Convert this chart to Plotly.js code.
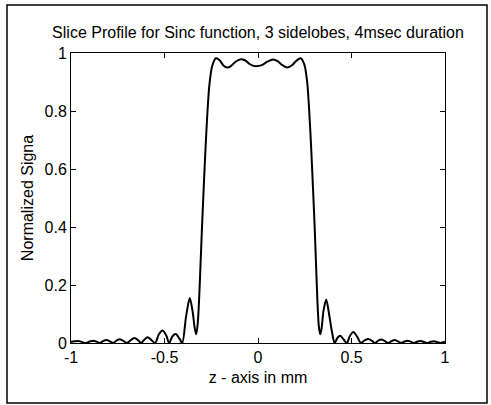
<!DOCTYPE html>
<html>
<head>
<meta charset="utf-8">
<script src="https://cdn.plot.ly/plotly-3.0.1.min.js"></script>
<style>html,body{margin:0;padding:0;background:#fff;}#chart{width:491px;height:405px;}</style>
</head>
<body>
<div id="chart"></div>
<script>
// z position (mm) and normalized signal
const zPos = [
  -1.00,-0.98,-0.96,-0.94,-0.92,-0.90,-0.88,-0.86,-0.845,-0.83,-0.81,-0.79,-0.775,-0.757,-0.74,-0.72,-0.70,-0.68,-0.66,-0.64,
  -0.625,-0.607,-0.59,-0.57,-0.55,-0.53,-0.51,-0.49,-0.475,-0.457,-0.44,-0.42,-0.405,-0.385,-0.365,-0.35,-0.338,-0.33,-0.322,-0.315,
  -0.308,-0.30,-0.29,-0.28,-0.27,-0.26,-0.245,-0.225,-0.205,-0.185,-0.165,-0.145,-0.12,-0.095,-0.07,-0.045,-0.02,0.0,
  0.02,0.05,0.08,0.105,0.13,0.155,0.18,0.205,0.228,0.248,0.263,0.273,0.283,0.293,0.303,0.311,0.318,0.325,0.332,0.34,0.35,
  0.365,0.38,0.395,0.41,0.425,0.44,0.458,0.475,0.492,0.51,0.53,0.55,0.57,0.59,0.61,0.625,0.643,0.66,0.68,0.695,0.713,0.73,
  0.75,0.765,0.783,0.80,0.82,0.835,0.853,0.87,0.89,0.905,0.923,0.94,0.96,0.975,0.99,1.0
];
const signal = [
  0.004,0.006,0.007,0.003,0.0,0.005,0.008,0.004,0.0,0.006,0.010,0.005,0.0,0.008,0.013,0.007,0.0,0.010,0.017,0.009,
  0.0,0.012,0.020,0.010,0.0,0.030,0.043,0.025,0.0,0.024,0.031,0.015,0.0,0.090,0.155,0.110,0.050,0.030,0.070,0.150,
  0.260,0.390,0.540,0.680,0.800,0.890,0.955,0.982,0.975,0.957,0.950,0.955,0.970,0.978,0.975,0.962,0.955,0.955,
  0.958,0.970,0.978,0.972,0.958,0.950,0.957,0.973,0.982,0.960,0.900,0.810,0.690,0.550,0.400,0.260,0.140,0.060,0.030,0.050,0.110,
  0.150,0.100,0.040,0.0,0.018,0.025,0.012,0.0,0.025,0.038,0.022,0.0,0.009,0.014,0.007,0.0,0.008,0.012,0.006,0.0,0.006,0.010,
  0.005,0.0,0.005,0.008,0.004,0.0,0.005,0.007,0.003,0.0,0.004,0.006,0.003,0.0,0.003,0.004
];
const xTickVals = [-1, -0.5, 0, 0.5, 1];
const xTickText = ["-1", "-0.5", "0", "0.5", "1"];
const yTickVals = [0, 0.2, 0.4, 0.6, 0.8, 1];
const yTickText = ["0", "0.2", "0.4", "0.6", "0.8", "1"];

const fontFam = "Liberation Sans, Arial, sans-serif";

const trace = {
  x: zPos, y: signal, type: "scatter", mode: "lines",
  line: {color: "#000", width: 2, shape: "spline", smoothing: 0.8},
  hoverinfo: "skip"
};

const axisCommon = {
  showgrid: false, zeroline: false, showline: true, linecolor: "#000", linewidth: 1,
  mirror: "ticks", ticks: "inside", ticklen: 5, tickcolor: "#000", tickwidth: 1,
  tickfont: {family: fontFam, size: 16, color: "#000"}
};

const layout = {
  width: 491, height: 405,
  margin: {l: 71, r: 46, t: 53, b: 62},
  paper_bgcolor: "#fff", plot_bgcolor: "#fff",
  showlegend: false,
  font: {family: fontFam, color: "#000", size: 16},
  title: {text: "Slice Profile for Sinc function, 3 sidelobes, 4msec duration",
          font: {family: fontFam, size: 16, color: "#000"},
          xref: "paper", x: 0.5, xanchor: "center", yref: "container", y: 1 - 32/405, yanchor: "middle"},
  xaxis: Object.assign({}, axisCommon, {
    range: [-1, 1], tickmode: "array", tickvals: xTickVals, ticktext: xTickText,
    title: {text: "z - axis in mm", font: {family: fontFam, size: 16, color: "#000"}, standoff: 6}
  }),
  yaxis: Object.assign({}, axisCommon, {
    range: [0, 1], tickmode: "array", tickvals: yTickVals, ticktext: yTickText,
    title: {text: "Normalized Signa", font: {family: fontFam, size: 16, color: "#000"}, standoff: 6}
  }),
  shapes: [
    {type: "rect", xref: "paper", yref: "paper", x0: (7-71)/374, x1: (487-71)/374,
     y0: (343-403)/290, y1: (343-5)/290, line: {color: "#000", width: 1.5}, layer: "below"}
  ]
};

Plotly.newPlot("chart", [trace], layout, {displayModeBar: false, staticPlot: true});
</script>
</body>
</html>
